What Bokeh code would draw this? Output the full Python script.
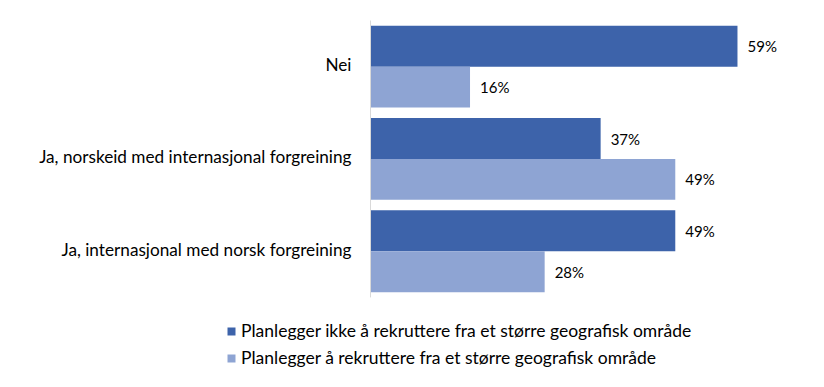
from bokeh.plotting import figure
from bokeh.models import Range1d, ColumnDataSource, Legend, LegendItem
from bokeh.core.properties import value
from bokeh.embed import file_html
from bokeh.resources import INLINE

categories = ["Nei", "Ja, norskeid med internasjonal forgreining", "Ja, internasjonal med norsk forgreining"]
series_names = ["Planlegger ikke å rekruttere fra et større geografisk område",
                "Planlegger å rekruttere fra et større geografisk område"]
ikke_values = [59, 37, 49]
rekrutt_values = [16, 49, 28]
ikke_labels = ["59%", "37%", "49%"]
rekrutt_labels = ["16%", "49%", "28%"]

colors = ["#3D63AA", "#8EA4D3"]
FONT = "Lato"

n = len(categories)
ypos = [n - 1 - i + 0.5 for i in range(n)]   # category slots, top to bottom
bh = 0.443
d = 0.2215
src = ColumnDataSource(dict(cat=categories, y=ypos,
                            ya=[v + d for v in ypos], yb=[v - d for v in ypos],
                            a=ikke_values, b=rekrutt_values,
                            la=ikke_labels, lb=rekrutt_labels, zero=[0] * n))

pxu = 6.22     # pixels per percent
pyu = 92.3     # pixels per category slot
W, H = 824, 387
x0_px, top_px = 370, 20
p = figure(width=W, height=H, output_backend="svg", toolbar_location=None,
           x_range=Range1d(-x0_px / pxu, (W - x0_px) / pxu),
           y_range=Range1d(n + top_px / pyu - H / pyu, n + top_px / pyu),
           x_axis_location=None, y_axis_location=None,
           min_border=0, min_border_left=0, min_border_right=0,
           min_border_top=0, min_border_bottom=0)
p.outline_line_color = None
p.xgrid.visible = False
p.ygrid.visible = False

r1 = p.hbar(y="ya", right="a", left=0, height=bh, source=src,
            fill_color=colors[0], line_color=None)
r2 = p.hbar(y="yb", right="b", left=0, height=bh, source=src,
            fill_color=colors[1], line_color=None)

# category axis line
p.segment(x0=[0], y0=[0], x1=[0], y1=[n], line_color="#D9D9D9", line_width=1)

# category labels
p.text(x="zero", y="y", text="cat", source=src, x_offset=-19, y_offset=-2,
       text_baseline="middle", text_align="right", text_font=value(FONT),
       text_font_size="17.2px", text_color="#000000")

# data labels
p.text(x="a", y="ya", text="la", source=src, x_offset=10,
       text_baseline="middle", text_align="left", text_font=value(FONT),
       text_font_size="15px", text_color="#000000")
p.text(x="b", y="yb", text="lb", source=src, x_offset=10,
       text_baseline="middle", text_align="left", text_font=value(FONT),
       text_font_size="15px", text_color="#000000")

legend = Legend(items=[LegendItem(label=series_names[0], renderers=[r1]),
                       LegendItem(label=series_names[1], renderers=[r2])],
                location=(226, 19), orientation="vertical",
                glyph_width=10, glyph_height=10, label_standoff=5, spacing=6,
                label_text_font=FONT, label_text_font_size="17.5px", label_text_color="#000000",
                label_height=20, padding=0, margin=0,
                border_line_color=None, background_fill_alpha=0)
p.add_layout(legend, "center")

open("out.html", "w").write(file_html(p, INLINE))
